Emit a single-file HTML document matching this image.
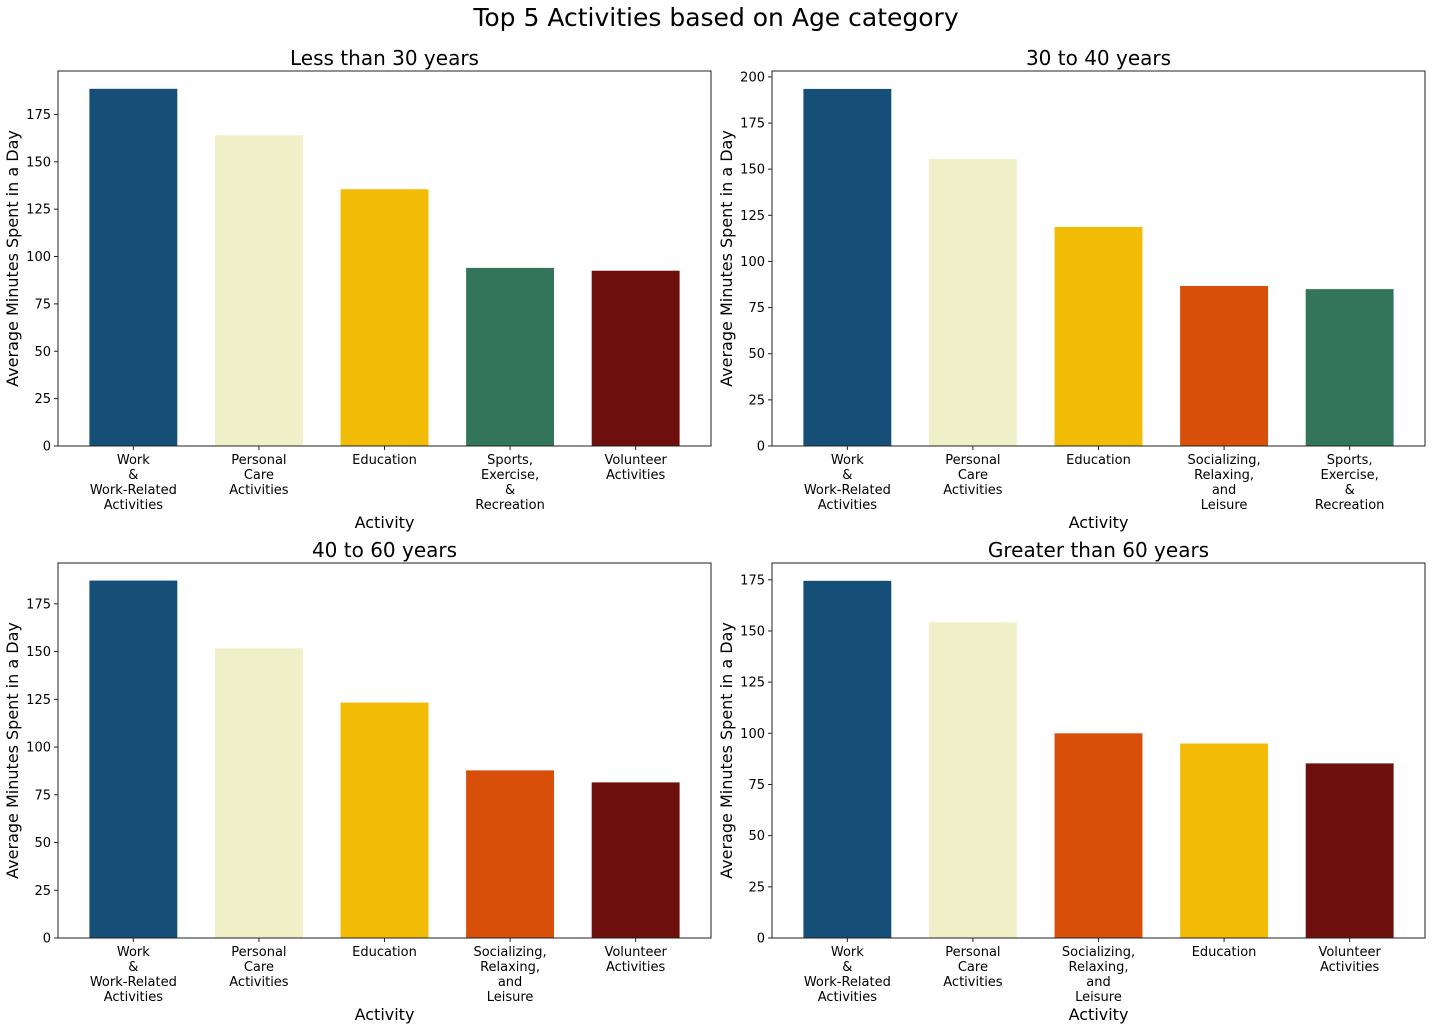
<!DOCTYPE html>
<html><head><meta charset="utf-8"><style>
html,body{margin:0;padding:0;background:#fff;}
svg{display:block;font-family:"DejaVu Sans","Liberation Sans",sans-serif;}
</style></head><body>
<svg id="chart" width="1432" height="1029" xmlns="http://www.w3.org/2000/svg">
<text x="716" y="26" text-anchor="middle" font-size="25">Top 5 Activities based on Age category</text>
</svg>
<script>
const panelTitles = ["Less than 30 years","30 to 40 years","40 to 60 years","Greater than 60 years"];
const cats1 = ["Work|&|Work-Related|Activities","Personal|Care|Activities","Education","Sports,|Exercise,|&|Recreation","Volunteer|Activities"];
const vals1 = [188.5,164,135.5,94,92.5];
const cats2 = ["Work|&|Work-Related|Activities","Personal|Care|Activities","Education","Socializing,|Relaxing,|and|Leisure","Sports,|Exercise,|&|Recreation"];
const vals2 = [193.5,155.5,118.7,86.7,85];
const cats3 = ["Work|&|Work-Related|Activities","Personal|Care|Activities","Education","Socializing,|Relaxing,|and|Leisure","Volunteer|Activities"];
const vals3 = [187.2,151.7,123.3,87.8,81.5];
const cats4 = ["Work|&|Work-Related|Activities","Personal|Care|Activities","Socializing,|Relaxing,|and|Leisure","Education","Volunteer|Activities"];
const vals4 = [174.5,154.2,100,95,85.3];
const ticks1 = [0,25,50,75,100,125,150,175];
const ticks2 = [0,25,50,75,100,125,150,175,200];
const ticks3 = [0,25,50,75,100,125,150,175];
const ticks4 = [0,25,50,75,100,125,150,175];
const ymax = [197.9,203.2,196.4,183.2];

const colorMap = {"Work":"#154f78","Personal":"#f0f0c8","Education":"#f1bb06","Sports,":"#33755a","Volunteer":"#6d0f0c","Socializing,":"#d84f0a"};
const NS="http://www.w3.org/2000/svg";
const svg=document.getElementById('chart');
function mk(tag,attrs,parent){const e=document.createElementNS(NS,tag);for(const k in attrs)e.setAttribute(k,attrs[k]);(parent||svg).appendChild(e);return e;}
const panels=[
 {x:58,y:71,cats:cats1,vals:vals1,ticks:ticks1},
 {x:772,y:71,cats:cats2,vals:vals2,ticks:ticks2},
 {x:58,y:563,cats:cats3,vals:vals3,ticks:ticks3},
 {x:772,y:563,cats:cats4,vals:vals4,ticks:ticks4}];
const W=653,H=375;
panels.forEach((p,pi)=>{
 const g=mk('g',{});
 
 
 const yS=v=>p.y+H-v/ymax[pi]*H;
 const step=W/5.2, xS=i=>p.x+step*0.6+i*step;
 const t=mk('text',{x:p.x+W/2,y:p.y-6,'text-anchor':'middle','font-size':20},g);
 t.textContent=panelTitles[pi];
 
 
 p.vals.forEach((v,i)=>{
  const key=p.cats[i].split('|')[0];
  const r=mk('rect',{x:xS(i)-step*0.35,y:yS(v),width:step*0.7,height:p.y+H-yS(v),fill:colorMap[key]},g);
  
  
  mk('line',{x1:xS(i),x2:xS(i),y1:p.y+H,y2:p.y+H+4,stroke:'#222'},g);
  const lt=mk('text',{x:xS(i),y:p.y+H+18,'text-anchor':'middle','font-size':13},g);
  
  
  p.cats[i].split('|').forEach((s,k)=>{const ts=mk('tspan',{x:xS(i),dy:k?15:0},lt);ts.textContent=s;});
 });
 p.ticks.forEach(tv=>{
  const yy=yS(tv);
  mk('line',{x1:p.x-4,x2:p.x,y1:yy,y2:yy,stroke:'#222'},g);
  const tt=mk('text',{x:p.x-7,y:yy+4.5,'text-anchor':'end','font-size':13},g);
  tt.textContent=tv;
  
  
 });
 const fr=mk('rect',{x:p.x,y:p.y,width:W,height:H,fill:'none',stroke:'#222','stroke-width':1},g);
 
 
 const xl=mk('text',{x:p.x+W/2,y:p.y+H+82,'text-anchor':'middle','font-size':16},g);
 xl.textContent='Activity';
 
 
 const cy=p.y+H/2, cx=p.x-40;
 const yl=mk('text',{x:cx,y:cy,'text-anchor':'middle','font-size':16,transform:`rotate(-90 ${cx} ${cy})`},g);
 yl.textContent='Average Minutes Spent in a Day';
 
 
});
</script>
</body></html>
